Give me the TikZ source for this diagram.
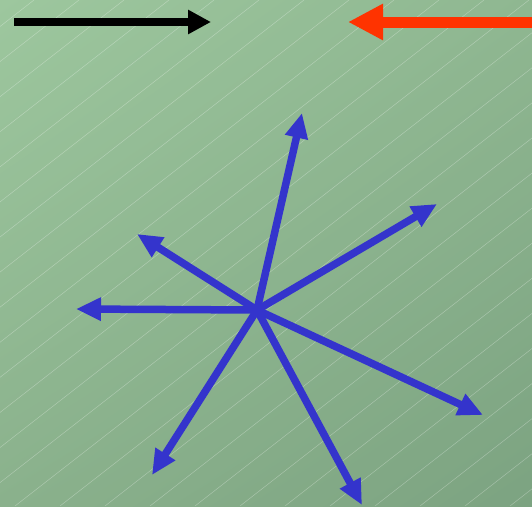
\documentclass[tikz,border=0pt]{standalone}
\usepackage{tikz}
\usetikzlibrary{arrows.meta,shadings}
\definecolor{bgul}{HTML}{9DC79E}
\definecolor{bgur}{HTML}{8FB791}
\definecolor{bgll}{HTML}{8AB18C}
\definecolor{bglr}{HTML}{7CA381}
\definecolor{vecblue}{HTML}{3434CC}
\definecolor{forcered}{HTML}{FF3300}
\tikzset{
	hatch/.style={white, opacity=0.3, line width=0.5pt},
	blackarr/.style={-{Triangle[length=23pt, width=23pt]}, line width=7.5pt, black},
	redarr/.style={-{Triangle[length=35pt, width=34pt]}, line width=11pt, forcered},
	bluearr/.style={-{Triangle[length=25pt, width=22pt]}, line width=7.5pt, vecblue}
}

\begin{document}
\begin{tikzpicture}[x=1pt, y=-1pt]
	% background
	\shade[upper left=bgul, upper right=bgur, lower left=bgll, lower right=bglr] (0,0) rectangle (532,506);
	\useasboundingbox (0,0) rectangle (532,506);
	\begin{scope}
		\clip (0,0) rectangle (532,506);
		\foreach \x in {-660,-615,...,560}
			\draw[hatch] (\x,506) -- ++(649,-506);
	\end{scope}
	% top arrows
	\coordinate (bl0) at (14,22);
	\coordinate (bl1) at (211,22);
	\coordinate (rd0) at (532,22);
	\coordinate (rd1) at (348,22);
	\draw[blackarr] (bl0) -- (bl1);
	\draw[redarr] (rd0) -- (rd1);
	% star of vectors
	\coordinate (c) at (257,310);
	\coordinate (up) at (302,113);
	\coordinate (ur) at (437,204);
	\coordinate (ul) at (137,234);
	\coordinate (lf) at (76,309);
	\coordinate (lr) at (483,415);
	\coordinate (ll) at (152,475);
	\coordinate (dn) at (362,505);
	\foreach \t in {up,ur,ul,lf,lr,ll,dn}
		\draw[bluearr] (c) -- (\t);
\end{tikzpicture}
\end{document}
